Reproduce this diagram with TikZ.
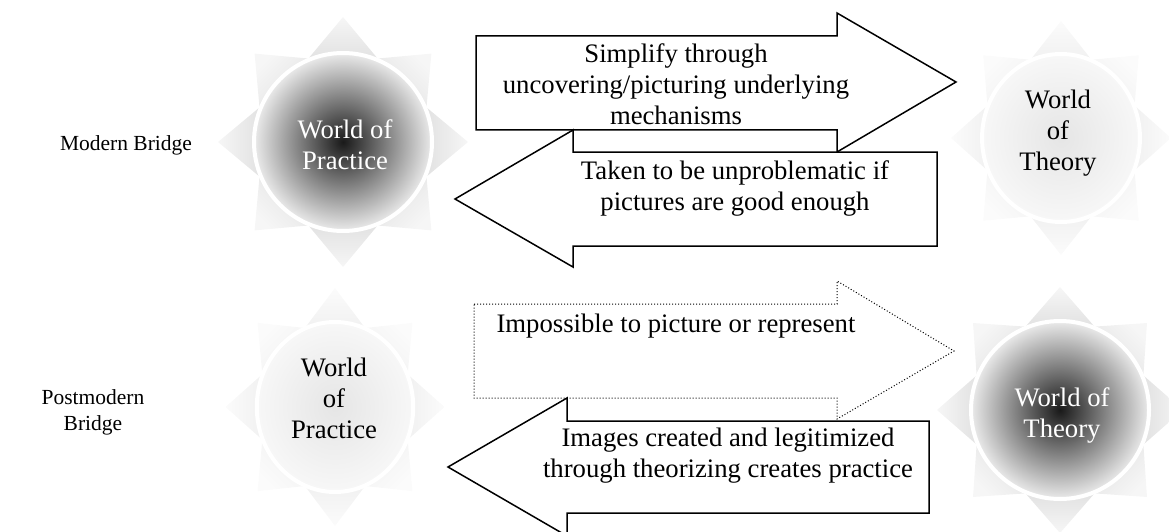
\documentclass[tikz,border=0pt]{standalone}
\usepackage{fontspec}
\setmainfont{Liberation Serif}

\tikzset{every picture/.style={line width=0.75pt}}
\tikzset{
  bigtext/.style={font=\fontsize{26.7}{31}\selectfont, inner sep=0pt, align=center},
  sidetext/.style={font=\fontsize{21.5}{26}\selectfont, inner sep=0pt, align=center},
  blockarrow/.style={draw=black, fill=white, line width=1.5pt, line join=miter},
  dotarrow/.style={draw=black, fill=white, line width=1pt, dotted},
  darkray/.style={top color=gray!7, bottom color=gray!24},
  lightray/.style={top color=gray!3, bottom color=gray!12},
  darkball/.style={inner color=black!90, outer color=gray!16, draw=white, line width=4pt},
  lightball/.style={inner color=gray!20, outer color=gray!6, draw=white, line width=4pt},
}

\begin{document}
\begin{tikzpicture}[x=1pt,y=1pt,yscale=-1,xscale=1]
\useasboundingbox (0,0) rectangle (1169,532);

%Shape: Sun, World of Practice (modern)
\begin{scope}[shift={(343,142)}]
\foreach \a [evaluate=\a as \sang using -\a-90] in {0,45,...,315}
  \shade[darkray, shading angle=\sang, rotate=\a] (125,0) -- (80,37.5) -- (80,-37.5) -- cycle;
\shadedraw[darkball] (0,0) circle [radius=89];
\end{scope}
%Shape: Sun, World of Theory (modern)
\begin{scope}[shift={(1061,138)}, xscale=0.94]
\foreach \a [evaluate=\a as \sang using -\a-90] in {0,45,...,315}
  \shade[lightray, shading angle=\sang, rotate=\a] (117,0) -- (74,36) -- (74,-36) -- cycle;
\shadedraw[lightball] (0,0) circle [radius=84];
\end{scope}
%Shape: Sun, World of Practice (postmodern)
\begin{scope}[shift={(335,407)}, xscale=0.92]
\foreach \a [evaluate=\a as \sang using -\a-90] in {0,45,...,315}
  \shade[lightray, shading angle=\sang, rotate=\a] (119,0) -- (75,36) -- (75,-36) -- cycle;
\shadedraw[lightball] (0,0) circle [radius=85];
\end{scope}
%Shape: Sun, World of Theory (postmodern)
\begin{scope}[shift={(1060,410)}]
\foreach \a [evaluate=\a as \sang using -\a-90] in {0,45,...,315}
  \shade[darkray, shading angle=\sang, rotate=\a] (123,0) -- (80,37.5) -- (80,-37.5) -- cycle;
\shadedraw[darkball] (0,0) circle [radius=89];
\end{scope}

%Shape: Right Arrow [simplify]
\draw[blockarrow] (476,36) -- (837,36) -- (837,13) -- (956,82) -- (837,152) -- (837,130) -- (476,130) -- cycle;
%Shape: Left Arrow [taken]
\draw[blockarrow] (937,152) -- (573,152) -- (573,130) -- (455,199) -- (573,267) -- (573,246) -- (937,246) -- cycle;
%Shape: Right Arrow, dotted [impossible]
\draw[dotarrow] (474,304) -- (837,304) -- (837,281) -- (954,351) -- (837,419) -- (837,398) -- (474,398) -- cycle;
%Shape: Left Arrow [images]
\draw[blockarrow] (929,421) -- (567,421) -- (567,398) -- (448,467) -- (567,536) -- (567,513) -- (929,513) -- cycle;

% Text Node
\node[sidetext, anchor=base] (modern) at (126,150) {Modern Bridge};
% Text Node
\node[sidetext] (postmodern) at (93,412) {Postmodern\\Bridge};
% Text Node
\node[bigtext, text=white] (practiceA) at (345,144.5) {World of\\Practice};
% Text Node
\node[bigtext] (theoryA) at (1058,133) {World\\of\\Theory};
% Text Node
\node[bigtext] (practiceB) at (334,398) {World\\of\\Practice};
% Text Node
\node[bigtext, text=white] (theoryB) at (1062,415.5) {World of\\Theory};
% Text Node
\node[bigtext] (simplify) at (676,84) {Simplify through\\uncovering/picturing underlying\\mechanisms};
% Text Node
\node[bigtext] (taken) at (735,188) {Taken to be unproblematic if\\pictures are good enough};
% Text Node
\node[bigtext, anchor=base] (impossible) at (676,332) {Impossible to picture or represent};
% Text Node
\node[bigtext] (images) at (728,456) {Images created and legitimized\\through theorizing creates practice};

\end{tikzpicture}
\end{document}
